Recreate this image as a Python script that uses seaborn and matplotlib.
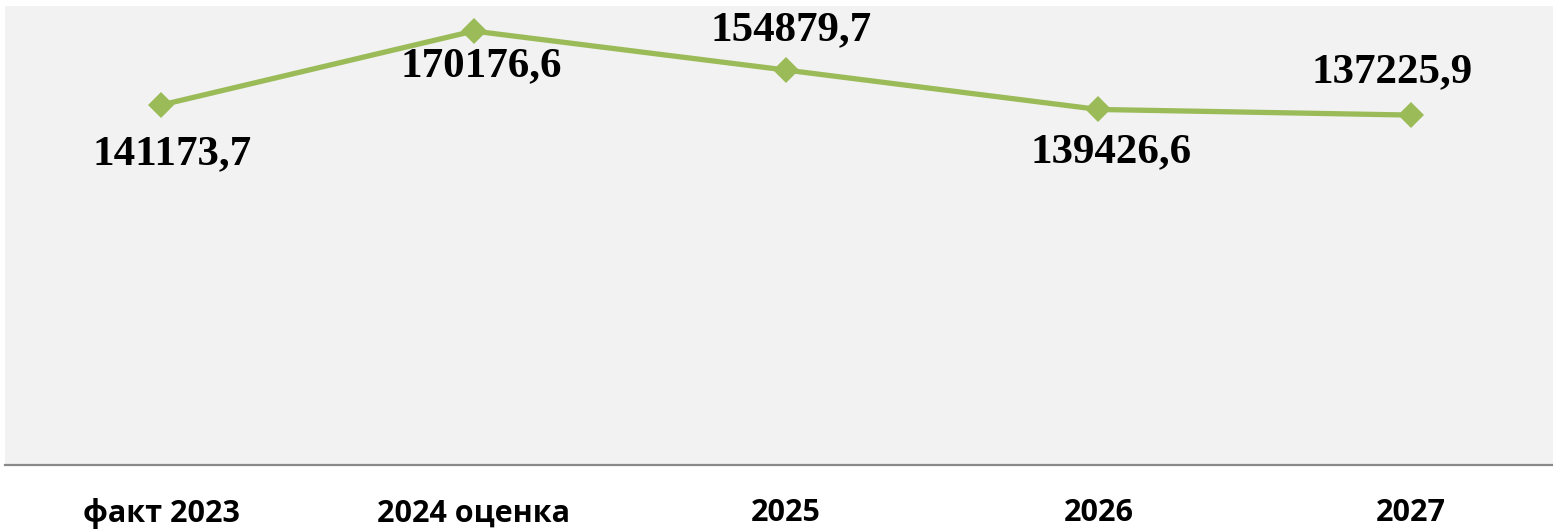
import numpy as np
import pandas as pd
import matplotlib
matplotlib.use('Agg')
import matplotlib.pyplot as plt
import seaborn as sns

# данные
periods = ['факт 2023', '2024 оценка', '2025', '2026', '2027']
values = [141173.7, 170176.6, 154879.7, 139426.6, 137225.9]
labels = ['141173,7', '170176,6', '154879,7', '139426,6', '137225,9']

# смещение подписей (в пикселях), ниже/выше точки
label_dx = [11, 8, 5, 13, -19]
label_dy = [-49, -35, 40, -43, 43]

df = pd.DataFrame({'period': periods, 'value': values})

sns.set_theme(style='white')
plt.rcParams['font.family'] = ['DejaVu Sans']

W, H = 1553, 531
fig = plt.figure(figsize=(W/100, H/100), dpi=100)
fig.patch.set_facecolor('white')
ax = fig.add_axes([5/W, (H-465)/H, (1567-5)/W, (465-6)/H])
ax.set_facecolor('#f2f2f2')

sns.lineplot(data=df, x='period', y='value', ax=ax, color='#9bbb59', linewidth=3.8,
             marker='D', markersize=13, markeredgewidth=0, sort=False)

x_idx = np.arange(len(periods))
for i in range(len(periods)):
    ax.annotate(labels[i], (x_idx[i], values[i]),
                xytext=(label_dx[i]*0.72, label_dy[i]*0.72), textcoords='offset points',
                ha='center', va='center', fontsize=31, fontweight='bold',
                family=['Liberation Serif', 'DejaVu Serif'], color='black')

ax.set_xlim(-0.5, 4.5)
ax.set_ylim(0, 180000)
ax.set_xlabel('')
ax.set_ylabel('')
ax.set_yticks([])
ax.set_xticks(x_idx)
ax.set_xticklabels(periods, fontsize=22, fontweight='bold', color='black',
                   family=['Open Sans', 'DejaVu Sans'])
ax.tick_params(axis='x', length=0, pad=24)
for s in ['top', 'right', 'left']:
    ax.spines[s].set_visible(False)
ax.spines['bottom'].set_color('#898989')
ax.spines['bottom'].set_linewidth(1.6)

plt.savefig('out.png', dpi=100)
